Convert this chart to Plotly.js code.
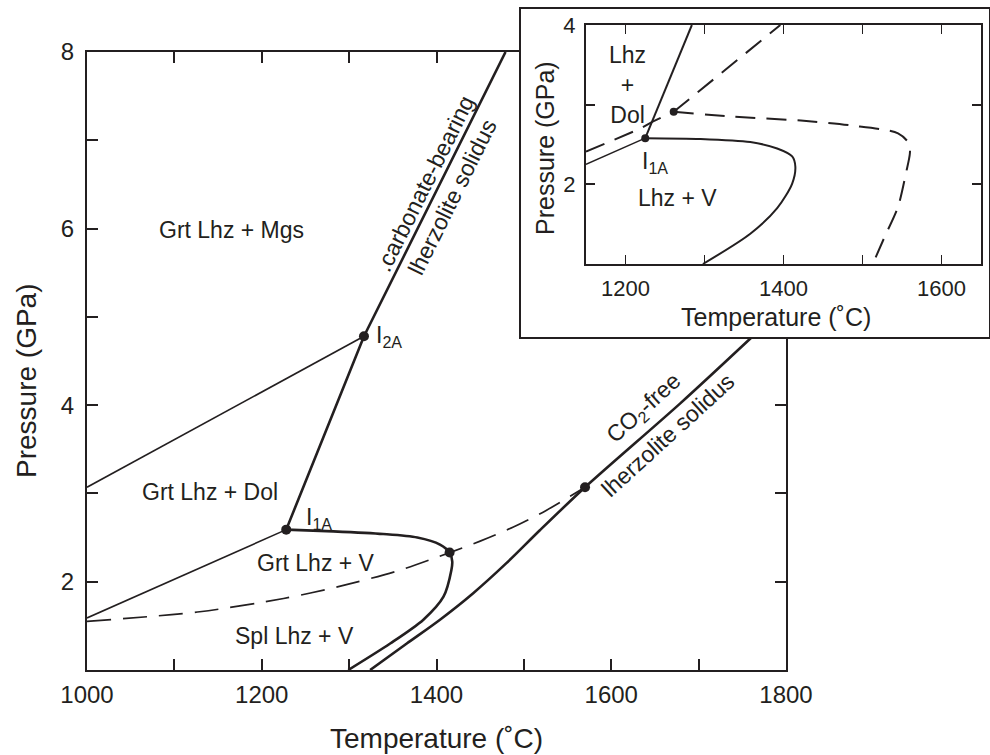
<!DOCTYPE html>
<html><head><meta charset="utf-8">
<script src="https://cdn.plot.ly/plotly-3.0.1.min.js"></script>
<style>html,body{margin:0;padding:0;background:#fff}#chart{width:990px;height:755px}</style>
</head><body><div id="chart"></div><script>
// ---- main diagram data (Temperature °C, Pressure GPa) ----
const carbSolidusT = [1228, 1317, 1479];
const carbSolidusP = [2.59, 4.78, 8.0];
const dolMgsT = [1000, 1317];
const dolMgsP = [3.07, 4.78];
const dolOutT = [1000, 1228];
const dolOutP = [1.59, 2.59];
const carbCurveT = [1228, 1282, 1339, 1378, 1404, 1415, 1418, 1417, 1408, 1385, 1347, 1299];
const carbCurveP = [2.59, 2.57, 2.54, 2.50, 2.42, 2.33, 2.23, 2.13, 1.83, 1.57, 1.30, 1.0];
const co2FreeT = [1324, 1366, 1404, 1442, 1480, 1518, 1570, 1679, 1762];
const co2FreeP = [1.0, 1.30, 1.57, 1.87, 2.21, 2.58, 3.07, 4.02, 4.78];
const splGrtT = [1000, 1129, 1225, 1290, 1358, 1415, 1450, 1488, 1526, 1570];
const splGrtP = [1.55, 1.66, 1.81, 1.95, 2.13, 2.33, 2.46, 2.62, 2.81, 3.07];
const pointT = [1228, 1317, 1415, 1570];
const pointP = [2.59, 4.78, 2.33, 3.07];

// ---- inset data ----
const inLeftT = [1150, 1225];
const inLeftP = [2.25, 2.58];
const inSteepT = [1225, 1284];
const inSteepP = [2.58, 4.0];
const inCurveT = [1225, 1295, 1358, 1392, 1411, 1415, 1411, 1392, 1358, 1298];
const inCurveP = [2.58, 2.57, 2.53, 2.45, 2.35, 2.22, 2.01, 1.70, 1.38, 1.0];
const inDash1T = [1150, 1219, 1235, 1261];
const inDash1P = [2.41, 2.70, 2.79, 2.91];
const inDash2T = [1261, 1337, 1396];
const inDash2P = [2.91, 3.52, 4.0];
const inDash3T = [1261, 1337, 1422, 1485, 1545, 1559, 1560, 1555, 1545, 1528, 1513];
const inDash3P = [2.91, 2.85, 2.80, 2.74, 2.64, 2.51, 2.39, 2.14, 1.72, 1.34, 1.0];
const inPointT = [1225, 1261];
const inPointP = [2.58, 2.91];

const INK = '#231f20';
const F = 'Liberation Sans, Arial, Helvetica, sans-serif';

function line(x, y, w, dash, ax, shape) {
  return {x: x, y: y, mode: 'lines', type: 'scatter', hoverinfo: 'skip', showlegend: false,
    xaxis: ax ? 'x' + ax : 'x', yaxis: ax ? 'y' + ax : 'y',
    line: {color: INK, width: w, dash: dash || 'solid', shape: shape || 'linear', smoothing: 0.8}};
}
function pts(x, y, ax, s) {
  return {x: x, y: y, mode: 'markers', type: 'scatter', hoverinfo: 'skip', showlegend: false,
    xaxis: ax ? 'x' + ax : 'x', yaxis: ax ? 'y' + ax : 'y',
    marker: {color: INK, size: s, line: {width: 0}}};
}

const traces = [
  line(dolMgsT, dolMgsP, 1.6),
  line(dolOutT, dolOutP, 1.6),
  line(splGrtT, splGrtP, 1.7, '24px,12px', null, 'spline'),
  line(carbSolidusT, carbSolidusP, 2.6),
  line(carbCurveT, carbCurveP, 2.6, null, null, 'spline'),
  line(co2FreeT, co2FreeP, 2.6, null, null, 'spline'),
  pts(pointT, pointP, null, 10),
  {x: [], y: [], xaxis: 'x2', yaxis: 'y2', type: 'scatter', mode: 'lines', showlegend: false, hoverinfo: 'skip'},
  line(inLeftT, inLeftP, 1.5, null, '3'),
  line(inDash1T, inDash1P, 2, '20px,11px', '3'),
  line(inDash2T, inDash2P, 2, '20px,11px', '3'),
  line(inDash3T, inDash3P, 2, '20px,11px', '3', 'spline'),
  line(inSteepT, inSteepP, 2, null, '3'),
  line(inCurveT, inCurveP, 2, null, '3', 'spline'),
  pts(inPointT, inPointP, '3', 8)
];

function ax(o) {
  return Object.assign({showgrid: false, zeroline: false, showline: true, linecolor: INK,
    ticks: 'inside', tickcolor: INK, fixedrange: true, automargin: false}, o);
}

const W = 990, H = 755;
const px = v => v / W, py = v => (H - v) / H;

const layout = {
  width: W, height: H,
  margin: {l: 0, r: 0, t: 0, b: 0},
  paper_bgcolor: '#fff', plot_bgcolor: '#fff',
  font: {family: F, color: INK},
  showlegend: false,
  xaxis: ax({domain: [px(87), px(786)], range: [1000, 1800], anchor: 'y',
    tick0: 1000, dtick: 200, ticklen: 11, tickwidth: 2, linewidth: 2, mirror: 'ticks',
    minor: {dtick: 100, ticks: 'inside', ticklen: 11, tickwidth: 2, tickcolor: INK},
    ticklabelstandoff: 2,
    tickfont: {family: F, size: 24, color: INK}}),
  yaxis: ax({domain: [py(670), py(52)], range: [1, 8], anchor: 'x',
    tick0: 0, dtick: 2, ticklen: 11, tickwidth: 2, linewidth: 2, mirror: 'ticks',
    minor: {dtick: 1, ticks: 'inside', ticklen: 11, tickwidth: 2, tickcolor: INK},
    ticklabelstandoff: 6,
    tickfont: {family: F, size: 24, color: INK}}),
  xaxis2: ax({domain: [px(521), px(989)], range: [0, 1], anchor: 'y2', ticks: '',
    showticklabels: false, linewidth: 1.6, mirror: true}),
  yaxis2: ax({domain: [py(337), py(9)], range: [0, 1], anchor: 'x2', ticks: '',
    showticklabels: false, linewidth: 1.6, mirror: true}),
  xaxis3: ax({domain: [px(586), px(981)], range: [1150, 1650], anchor: 'y3',
    tick0: 1200, dtick: 200, ticklen: 9, tickwidth: 1.8, linewidth: 2, mirror: 'ticks',
    minor: {dtick: 100, ticks: 'inside', ticklen: 9, tickwidth: 1.8, tickcolor: INK},
    ticklabelstandoff: 4,
    tickfont: {family: F, size: 22, color: INK}}),
  yaxis3: ax({domain: [py(264), py(25)], range: [1, 4], anchor: 'x3',
    tick0: 0, dtick: 2, ticklen: 9, tickwidth: 1.8, linewidth: 2, mirror: 'ticks',
    minor: {dtick: 1, ticks: 'inside', ticklen: 9, tickwidth: 1.8, tickcolor: INK},
    ticklabelstandoff: 4,
    tickfont: {family: F, size: 22, color: INK}}),
  annotations: []
};

function note(text, x, y, o) {
  layout.annotations.push(Object.assign({text: text, x: x, y: y, xref: 'x', yref: 'y',
    xanchor: 'center', yanchor: 'middle',
    showarrow: false, font: {family: F, size: 23, color: INK}}, o || {}));
}
// main labels
note('Grt Lhz + Mgs', 1165, 5.98);
note('Grt Lhz + Dol', 1141, 3.02);
note('Grt Lhz + V', 1262, 2.21);
note('Spl Lhz + V', 1237, 1.39);
note('I<sub>1A</sub>', 1248, 2.72, {xanchor: 'left'});
note('I<sub>2A</sub>', 1328, 4.78, {xanchor: 'left'});
note('.carbonate-bearing', 1386, 6.51, {textangle: -63.5});
note('lherzolite solidus', 1418, 6.36, {textangle: -63.5});
note('CO<sub>2</sub>-free', 1638, 3.96, {textangle: -42.4});
note('lherzolite solidus', 1665, 3.66, {textangle: -42.4});
// inset labels
const ins = {xref: 'x3', yref: 'y3'};
note('Lhz<br>+<br>Dol', 1202, 3.25, ins);
note('I<sub>1A</sub>', 1218, 2.28, Object.assign({xanchor: 'left'}, ins));
note('Lhz + V', 1266, 1.83, ins);
// axis titles
const tf = s => ({family: F, size: s, color: INK});
const pap = {xref: 'paper', yref: 'paper'};
note('Temperature (˚C)', px(436), py(738), Object.assign({font: tf(28)}, pap));
note('Pressure (GPa)', px(27), py(381), Object.assign({textangle: -90, font: tf(28)}, pap));
note('Temperature (˚C)', px(776), py(317), Object.assign({font: tf(25)}, pap));
note('Pressure (GPa)', px(545), py(148), Object.assign({textangle: -90, font: tf(25)}, pap));

Plotly.newPlot('chart', traces, layout, {staticPlot: true, displayModeBar: false});
</script></body></html>
